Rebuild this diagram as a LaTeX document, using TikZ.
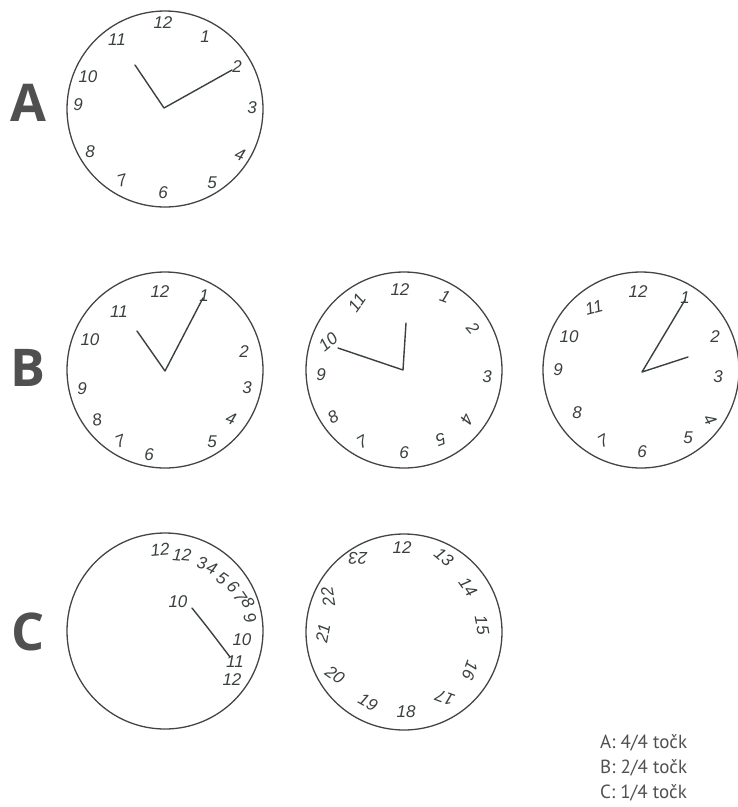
\documentclass[tikz,border=0pt]{standalone}
\usepackage{fontspec}
\setmainfont{Liberation Sans}
\newfontfamily\labelfont{Open Sans}
\newfontfamily\scorefont{PT Sans}
\definecolor{ink}{HTML}{3A4040}
\definecolor{rim}{HTML}{444444}
\definecolor{lettergray}{HTML}{505050}
\tikzset{
  face/.style={circle,draw=rim,line width=1.3pt,minimum size=196pt,inner sep=0pt},
  num/.style={inner sep=0pt,text=ink,font=\fontsize{17}{17}\selectfont\itshape},
  hand/.style={draw=ink,line width=1.4pt,line cap=round,line join=round},
  rowlabel/.style={inner sep=0pt,text=lettergray,font=\labelfont\bfseries\fontsize{52}{52}\selectfont},
  score/.style={inner sep=0pt,anchor=west,text=lettergray,font=\scorefont\fontsize{19}{19}\selectfont}
}
\begin{document}
\begin{tikzpicture}[x=1pt,y=-1pt]
  \useasboundingbox (0,0) rectangle (738,807);

  % row labels
  \node[rowlabel] (la) at (28,103) {A};
  \node[rowlabel] (lb) at (28,368) {B};
  \node[rowlabel] (lc) at (28,632) {C};

  % clock A
  \node[face] (fa) at (165,109) {};
  \foreach \n/\x/\y/\r in {12/163/23/0, 1/205/37/0, 2/237/67/0, 3/252/108/0,
      4/240/155/-20, 5/212/183/0, 6/163/193/0, 7/122/181/15,
      8/90/152/0, 9/78/105/0, 10/88/77/0, 11/117/40/0}
    \node[num,rotate=\r] (a\n) at (\x,\y) {\n};
  \coordinate (ca) at (164,108);
  \coordinate (ha) at (135,65);
  \coordinate (ma) at (232,70);
  \draw[hand] (ha) -- (ca) -- (ma);

  % clock B1
  \node[face] (fb1) at (165,370) {};
  \foreach \n/\x/\y/\r in {12/160/292/0, 1/204/296/0, 2/244/352/0, 3/247/388/0,
      4/231/419/-20, 5/212/442/0, 6/149/455/0, 7/120/441/20,
      8/97/420/10, 9/82/389/0, 10/90/340/0, 11/119/312/0}
    \node[num,rotate=\r] (b1\n) at (\x,\y) {\n};
  \coordinate (cb1) at (165,371);
  \coordinate (hb1) at (137,331);
  \coordinate (mb1) at (203,298);
  \draw[hand] (hb1) -- (cb1) -- (mb1);

  % clock B2
  \node[face] (fb2) at (404,370) {};
  \foreach \n/\x/\y/\r in {12/400/290/0, 1/445/297/-20, 2/473/328/-50, 3/487/377/0,
      4/467/419/-115, 5/441/440/-160, 6/404/453/0, 7/362/442/30,
      8/333/417/30, 9/321/375/0, 10/328/342/40, 11/357/303/55}
    \node[num,rotate=\r] (b2\n) at (\x,\y) {\n};
  \coordinate (cb2) at (403,370);
  \coordinate (hb2) at (338,348);
  \coordinate (mb2) at (406,323);
  \draw[hand] (hb2) -- (cb2) -- (mb2);

  % clock B3
  \node[face] (fb3) at (641,370) {};
  \foreach \n/\x/\y/\r in {12/638/292/0, 1/685/298/0, 2/715/337/0, 3/718/377/0,
      4/710/420/-60, 5/688/438/0, 6/642/452/0, 7/603/441/30,
      8/577/413/0, 9/558/370/0, 10/569/337/0, 11/594/308/15}
    \node[num,rotate=\r] (b3\n) at (\x,\y) {\n};
  \coordinate (cb3) at (642,372);
  \coordinate (hb3) at (688,357);
  \coordinate (mb3) at (685,300);
  \draw[hand] (hb3) -- (cb3) -- (mb3);

  % clock C1
  \node[face] (fc1) at (165,631) {};
  \foreach \t/\x/\y/\r [count=\i] in {12/160/550/5, 12/182/555/-5, 3/202/563/-15,
      4/212/568/-25, 5/222/578/-35, 6/233/587/-45, 7/240/597/-55,
      8/248/603/-60, 9/250/618/-70, 10/242/640/0, 11/235/662/0, 12/232/680/0}
    \node[num,rotate=\r] (c1n\i) at (\x,\y) {\t};
  \node[num] (c1in) at (178,602) {10};
  \coordinate (hc1a) at (192,608);
  \coordinate (hc1b) at (230,657);
  \draw[hand] (hc1a) .. controls (208,628) .. (hc1b);

  % clock C2
  \node[face] (fc2) at (404,632) {};
  \foreach \n/\x/\y/\r in {12/402/548/0, 13/444/557/-40, 14/468/587/-55, 15/482/625/-80,
      16/470/670/-110, 17/445/698/160, 18/406/712/0, 19/368/702/-30,
      20/335/675/-35, 21/323/633/80, 22/328/597/100, 23/358/558/180}
    \node[num,rotate=\r] (c2\n) at (\x,\y) {\n};

  % scores
  \node[score] (sa) at (600,743) {A: 4/4 točk};
  \node[score] (sb) at (600,768) {B: 2/4 točk};
  \node[score] (sc) at (600,793) {C: 1/4 točk};
\end{tikzpicture}
\end{document}
